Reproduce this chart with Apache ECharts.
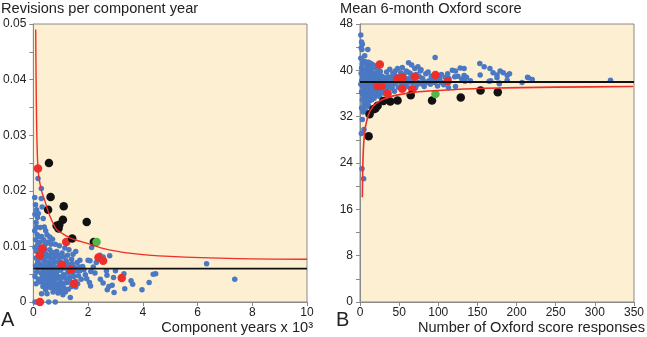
<!DOCTYPE html>
<html>
<head>
<meta charset="utf-8">
<script src="https://cdn.jsdelivr.net/npm/echarts@6/dist/echarts.min.js"></script>
<style>
html, body { margin: 0; padding: 0; background: #fff; }
#main { width: 647px; height: 337px; }
</style>
</head>
<body>
<div id="main"></div>
<script>
// ---- panel A : revisions per component year ----
const aBlue = [
  [0.05,0.0188],[0.08,0.0175],[0.12,0.0166],[0.06,0.0158],[0.15,0.0152],[0.1,0.0143],[0.05,0.0128],[0.14,0.0121],
  [0.08,0.0112],[0.18,0.0106],[0.06,0.0098],[0.12,0.0091],[0.2,0.0087],[0.1,0.0079],[0.16,0.0072],[0.08,0.0065],
  [0.2,0.0061],[0.12,0.0054],[0.06,0.0046],[0.18,0.0041],[0.1,0.0033],[0.06,0],[0.14,0],[0.56,0],[0.8,0],
  [0.17,0.0222],[0.29,0.0204],[0.29,0.0186],[0.32,0.0171],[0.18,0.0159],[0.36,0.015],[0.4,0.0135],[0.45,0.0128],
  [0.25,0.0134],[0.3,0.0118],[0.5,0.0121],[0.38,0.0112],[0.6,0.0117],[0.7,0.0113],[0.55,0.0108],[0.8,0.0104],
  [0.95,0.0101],[1.15,0.0097],[1.3,0.0094],[1.55,0.0091],[1.45,0.0086],[1.25,0.0084],[1.05,0.0088],
  [0.35,0.0092],[0.45,0.0087],[0.6,0.0094],[0.7,0.0089],[0.85,0.0091],[0.5,0.0081],[0.65,0.0078],[0.8,0.0082],
  [0.95,0.0079],[1.1,0.0081],[0.4,0.0074],[0.55,0.0071],[0.72,0.0069],[0.88,0.0072],[1.2,0.0074],[1.4,0.0077],
  [0.3,0.0066],[0.45,0.0063],[0.6,0.0061],[0.78,0.0063],[0.95,0.0065],[1.3,0.0068],[1.6,0.0071],[0.38,0.0057],
  [0.52,0.0054],[0.68,0.0056],[0.85,0.0054],[1.0,0.0057],[1.15,0.0061],[1.5,0.0062],[0.42,0.0049],[0.58,0.0047],
  [0.75,0.0048],[0.92,0.0046],[1.1,0.0049],[1.25,0.0052],[1.45,0.0053],[0.48,0.0041],[0.64,0.0039],[0.8,0.0041],
  [0.98,0.0038],[1.18,0.0043],[1.35,0.0045],[1.65,0.0047],[0.55,0.0033],[0.7,0.0031],[0.88,0.0032],[1.05,0.003],
  [1.25,0.0035],[1.55,0.0037],[0.62,0.0026],[0.78,0.0024],[0.95,0.0022],[1.12,0.0025],[1.4,0.0028],[0.72,0.0018],
  [0.9,0.0016],[1.08,0.0013],[1.35,0.0008],[1.55,0.0027],[1.7,0.0056],[1.8,0.0064],[1.75,0.0041],[1.9,0.0049],
  [2.0,0.0075],[2.07,0.0074],[2.13,0.0098],[2.19,0.0063],[2.1,0.0055],[2.05,0.0035],[2.09,0.0029],[2.25,0.0052],
  [2.3,0.0071],[2.43,0.0084],[2.45,0.0041],[2.55,0.0081],[2.55,0.0034],[2.67,0.0056],[2.69,0.0048],[2.7,0.0022],
  [2.76,0.0028],[2.79,0.0083],[2.88,0.003],[2.93,0.0044],[2.95,0.0017],[3.0,0.0056],[3.31,0.0051],[3.34,0.0024],
  [3.57,0.0038],[3.63,0.0032],[3.97,0.0022],[4.23,0.0035],[4.38,0.005],[4.47,0.0051],[6.33,0.0069],[7.36,0.0041],
  [0.25,0.0108],[0.2,0.0097],[0.26,0.0079],[0.22,0.0069],[0.28,0.0052],[0.32,0.0044],[0.25,0.0036],[0.35,0.0028],
  [0.45,0.0022],[0.5,0.0015],[0.3,0.0015],
  [0.33,0.0085],[0.42,0.0095],[0.48,0.0068],[0.62,0.0085],[0.67,0.0066],[0.74,0.0076],[0.82,0.0058],[0.9,0.0084],
  [1.0,0.0071],[1.02,0.0044],[1.08,0.0063],[1.15,0.0034],[1.22,0.0067],[1.3,0.0058],[1.32,0.0039],[1.42,0.0069],
  [1.48,0.0046],[1.6,0.0056],[1.62,0.0033],[0.52,0.0029],[0.58,0.0038],[0.65,0.0052],[0.76,0.0036],[0.84,0.0027],
  [0.86,0.0045],[0.93,0.0058],[0.97,0.003],[1.02,0.0019],[1.17,0.0018],[1.28,0.0023],[0.4,0.0061],[0.36,0.0038],
  [0.42,0.0031],[0.56,0.0059],[0.7,0.0044],[0.15,0.0102],[0.22,0.0118],[0.12,0.0135],[0.34,0.0078],[0.44,0.0104],
  [0.64,0.0104],[1.7,0.0075],[1.85,0.0058],[1.95,0.0042],[1.68,0.0063]
];
const aRed = [
  [0.17,0.024],[0.33,0.0096],[0.24,0.0084],[1.2,0.0108],[1.05,0.0067],[1.37,0.0058],[1.49,0.0033],
  [2.38,0.008],[2.55,0.0074],[3.23,0.0043],[0.24,0]
];
const aBlack = [
  [0.57,0.025],[0.63,0.0189],[0.54,0.0166],[1.11,0.0172],[1.08,0.0148],[0.85,0.0137],[0.95,0.0139],
  [0.92,0.0132],[1.95,0.0144],[1.42,0.0114],[2.21,0.0108]
];
const aGreen = [[2.31,0.0108]];
const aMean = [[0,0.006],[10,0.006]];
const aLimit = [
  [0.085,0.049],[0.1,0.04],[0.12,0.032],[0.15,0.026],[0.2,0.0225],[0.3,0.02],[0.4,0.0185],[0.6,0.0155],
  [0.85,0.013],[1.0,0.0125],[1.35,0.0115],[2,0.0105],[2.5,0.0097],[3.5,0.0088],[5,0.0082],[7.5,0.0078],[10,0.0077]
];

// ---- panel B : mean 6-month Oxford score ----
const bBlue = [
  [1,46.1],[2,44.9],[1.5,43.9],[2.5,43.6],[1,42.1],[3,41.1],[2,40.4],[4,40.0],[1.5,39.5],[3,39.0],[5,38.8],
  [2,38.2],[4,37.9],[1,37.6],[3.5,37.2],[5.5,36.8],[2,36.3],[4,35.8],[6,35.4],[3,34.9],[5,34.2],[2,33.5],
  [4,32.8],[1.7,29.1],[5,29.8],[2.5,23.0],[4.7,21.3],
  [10,43.6],[7,41.5],[9,40.7],[8,40.2],[11,39.9],[13,39.6],[7,39.3],[10,39.0],[12,38.8],[14,38.5],[8,38.4],
  [9.5,38.1],[11,37.8],[13,37.6],[15,37.4],[7,37.1],[9,36.8],[12,36.5],[14,36.2],[8,35.9],[10,35.5],[13,35.2],
  [15,34.9],[9,34.4],[11,33.8],[7.5,33.0],
  [17,40.9],[20,40.4],[23,40.1],[26,39.8],[18,39.5],[21,39.3],[24,39.1],[28,39.0],[30,38.8],[17,38.6],[19,38.4],
  [22,38.2],[25,38.4],[27,38.1],[31,38.3],[18,37.9],[21,37.7],[24,37.5],[29,37.8],[32,37.6],[17,37.2],[20,37.0],
  [26,36.9],[30,36.7],[19,36.4],[23,36.2],[28,36.3],[21,35.7],[25,35.5],[18,35.2],[32,36.0],
  [34,39.7],[38,40.2],[42,39.5],[45,39.9],[48,40.3],[52,39.6],[56,39.2],[36,38.9],[40,38.7],[44,38.4],[47,38.9],
  [50,38.5],[55,38.2],[58,38.6],[35,38.1],[39,37.8],[43,37.6],[46,37.9],[53,37.4],[57,37.7],[37,37.2],[41,36.9],
  [49,37.1],[44,36.4],[60,37.2],
  [62,41.3],[66,40.9],[70,40.3],[74,40.6],[78,40.1],[64,39.5],[68,39.1],[72,39.3],[76,38.9],[80,38.6],[84,39.4],
  [88,38.2],[92,38.8],[96,42.2],[62,38.0],[67,37.8],[73,37.5],[79,37.7],[86,37.9],[94,38.1],[98,38.5],[90,37.6],
  [82,37.2],[65,36.9],[71,37.0],
  [113,37.0],[102,38.6],[118,40.0],[128,40.4],[125,39.0],[130,38.5],[134,38.1],
  [104,39.3],[112,39.4],[122,39.9],[133,40.3],[133,39.1],[136,38.8],[141,38.2],[153,41.2],[158.6,40.6],[166,40.3],
  [170,39.6],[153.5,39.2],[175,39.2],[175,38.7],[179,39.9],[183,39.6],[188,39.1],[191,39.4],[165,38.1],[167,38.2],
  [178,37.8],[178,37.7],[188,38.3],[207,37.9],[215,38.7],[220,38.4],[122,37.2],[121,38.9],[104,37.9],[107,37.5],
  [113.5,38.6],[109,38.8],[214,38.8],[320,38.3],
  [3,36.0],[6,36.6],[8,37.7],[5,39.6],[6,38.0],[7,36.3],[10,37.3],[12,37.2],[14,37.9],[16,38.0],[16,36.6],
  [15,39.1],[13,38.2],[11,36.2],[9,35.1],[12,34.7],[10,34.0],[6,33.8],[4,33.2],[3,31.5],[16,35.8],[19,38.9],
  [22,36.8],[24,38.0],[26,37.6],[27,36.1],[29,38.5],[33,37.9],[34,36.8],[36,37.7],[38,38.3],[40,37.4],[42,38.9],
  [44,39.2],[15,40.3],[20,38.7],[23,39.4],[28,37.2],[31,37.1],[18,36.1],[8,39.8],[12,40.5],[14,41.2],[6,42.5],
  [3,44.5],[11,41.4],[4,41.6],[7,38.7],
  [51,38.1],[59,39.9],[63,38.6],[69,38.2],[75,37.9],[77,39.9],[83,38.0],[87,39.7],[91,39.0],[95,37.9],[99,37.3],
  [61,39.7],[54,40.5],[56,37.5]
];
const bRed = [
  [25.3,41.0],[22.7,37.3],[27.4,37.3],[35.3,36.0],[48,38.6],[54,38.7],[54,36.8],[67,36.7],[70,38.9],
  [96.4,39.2],[112,38.1]
];
const bBlack = [
  [11,28.6],[12.2,32.4],[17.3,33.3],[19.7,33.4],[22.5,33.9],[29.9,34.7],[38.7,34.6],[48,34.8],[64.8,35.7],
  [92,34.8],[128.7,35.3],[154,36.5],[176,36.2]
];
const bGreen = [[96.4,35.9]];
const bMean = [[0,38],[350,38]];
const bLimit = [
  [3,18.1],[3.5,23],[4.2,26],[5.1,28],[6.5,29.8],[8,30.9],[11,32.4],[16.4,33.7],[24,34.6],[33,35.2],
  [50,35.8],[75,36.3],[110,36.6],[160,36.9],[250,37.1],[349,37.2]
];

const FONT = "'Liberation Sans', Arial, sans-serif";
const BLUE = '#4a78c2';
const RED = '#ec2f2b';
const BLACK = '#111111';
const GREEN = '#4fb848';

function axisX(idx, max, interval) {
  return {
    type: 'value', gridIndex: idx, min: 0, max: max, interval: interval,
    splitLine: { show: false },
    axisLine: { onZero: false, lineStyle: { color: '#8a8a8a', width: 1 } },
    axisTick: { show: true, length: 4, lineStyle: { color: '#8a8a8a' } },
    axisLabel: { color: '#222', fontFamily: FONT, fontSize: 12, margin: 5 }
  };
}
function axisY(idx, max, interval) {
  return {
    type: 'value', gridIndex: idx, min: 0, max: max, interval: interval,
    splitLine: { show: false },
    axisLine: { show: true, lineStyle: { color: '#8a8a8a', width: 1 } },
    axisTick: { show: true, length: 4, lineStyle: { color: '#8a8a8a' } },
    minorTick: { show: true, splitNumber: 2, length: 4, lineStyle: { color: '#8a8a8a' } },
    axisLabel: { color: '#222', fontFamily: FONT, fontSize: 12, margin: 7 }
  };
}
function dots(idx, data, color, size) {
  return {
    type: 'scatter', xAxisIndex: idx, yAxisIndex: idx, data: data,
    symbolSize: size, itemStyle: { color: color, opacity: 1 }, silent: true
  };
}
function line(idx, data, color, width) {
  return {
    type: 'line', xAxisIndex: idx, yAxisIndex: idx, data: data, smooth: 0.3,
    showSymbol: false, lineStyle: { color: color, width: width }, silent: true
  };
}

const option = {
  animation: false,
  backgroundColor: '#ffffff',
  textStyle: { fontFamily: FONT },
  title: [
    { text: 'Revisions per component year', left: 1, top: 1, padding: 0,
      textStyle: { fontFamily: FONT, fontSize: 14.6, fontWeight: 'normal', color: '#222' } },
    { text: 'Mean 6-month Oxford score', left: 340, top: 1, padding: 0,
      textStyle: { fontFamily: FONT, fontSize: 14.6, fontWeight: 'normal', color: '#222' } }
  ],
  grid: [
    { left: 29, top: 24, width: 278, height: 278, show: true, backgroundColor: '#fdefd2', borderColor: '#8a8a8a', borderWidth: 1 },
    { left: 360, top: 24, width: 278, height: 278, show: true, backgroundColor: '#fdefd2', borderColor: '#8a8a8a', borderWidth: 1 }
  ],
  xAxis: [axisX(0, 10, 2), axisX(1, 350, 50)],
  yAxis: [axisY(0, 0.05, 0.01), axisY(1, 48, 8)],
  graphic: [
    { type: 'text', left: 1, top: 310, style: { text: 'A', font: '20px ' + FONT, fill: '#222' } },
    { type: 'text', left: 336, top: 310, style: { text: 'B', font: '20px ' + FONT, fill: '#222' } },
    { type: 'text', right: 334, top: 320, style: { text: 'Component years x 10³', font: '14.6px ' + FONT, fill: '#222' } },
    { type: 'text', right: 2, top: 320, style: { text: 'Number of Oxford score responses', font: '14.6px ' + FONT, fill: '#222' } }
  ],
  series: [
    dots(0, aBlue, BLUE, 5.5),
    line(0, aMean, BLACK, 1.6),
    line(0, aLimit, RED, 1.4),
    dots(0, aRed, RED, 8.5),
    dots(0, aBlack, BLACK, 8.5),
    dots(0, aGreen, GREEN, 8.5),
    dots(1, bBlue, BLUE, 5.5),
    line(1, bMean, BLACK, 2),
    line(1, bLimit, RED, 1.6),
    dots(1, bRed, RED, 8.5),
    dots(1, bBlack, BLACK, 8.5),
    dots(1, bGreen, GREEN, 8.5)
  ]
};

const myChart = echarts.init(document.getElementById('main'));
myChart.setOption(option);
</script>
</body>
</html>
